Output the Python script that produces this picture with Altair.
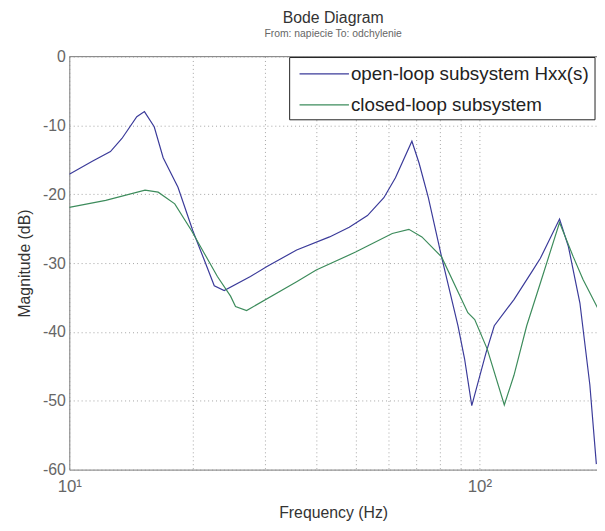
import altair as alt
import pandas as pd

# ---- data ----
open_freq = [10.0, 11.38, 12.60, 13.44, 14.61, 15.25, 16.11, 16.94, 18.41, 20.01, 21.35, 22.57, 23.86,
             27.65, 30.34, 35.84, 43.11, 48.15, 53.33, 58.48, 62.41, 68.45, 71.28, 75.07, 80.86,
             88.64, 92.0, 95.8, 103.8, 108.7, 121.4, 134.4, 140.8, 156.8, 164.8, 175.8, 185.9, 192.8]
open_db = [-17.1, -15.2, -13.8, -11.9, -8.75, -8.0, -10.2, -14.7, -19.0, -25.3, -29.6, -33.3, -34.0,
           -31.95, -30.5, -28.1, -26.2, -24.8, -23.1, -20.5, -17.6, -12.3, -15.5, -20.5, -29.1,
           -39.1, -43.9, -50.7, -43.0, -39.1, -35.3, -31.2, -29.3, -23.6, -27.6, -35.8, -47.7, -59.2]

closed_freq = [10.0, 12.27, 15.30, 16.47, 18.08, 19.82, 21.35, 22.97, 24.73, 25.43, 27.06, 35.84,
               40.0, 49.9, 61.3, 67.3, 72.4, 80.86, 93.7, 97.4, 104.5, 115.0, 121.4, 130.4, 140.8,
               156.8, 169.4, 178.9, 194.9]
closed_db = [-21.9, -20.9, -19.4, -19.7, -21.4, -25.2, -28.6, -31.95, -34.8, -36.3, -36.9, -32.7,
             -31.0, -28.4, -25.7, -25.1, -26.2, -29.1, -37.2, -38.2, -42.5, -50.6, -46.3, -39.1, -32.9,
             -24.1, -29.1, -32.4, -36.7]

series_names = ["open-loop subsystem Hxx(s)", "closed-loop subsystem"]
series_colors = ["#3b3b9a", "#3d8c5c"]

x_ticks = [10, 20, 30, 40, 50, 60, 70, 80, 90, 100]
y_ticks = [0, -10, -20, -30, -40, -50, -60]

W, H = 534, 418
FONT = "Liberation Sans"

df = pd.concat([
    pd.DataFrame({"f": open_freq, "db": open_db, "series": series_names[0], "order": range(len(open_freq))}),
    pd.DataFrame({"f": closed_freq, "db": closed_db, "series": series_names[1], "order": range(len(closed_freq))}),
])

xscale = alt.Scale(type="log", domain=[10, 193.5], nice=False, clamp=False)
yscale = alt.Scale(domain=[-60, 0], nice=False)

lines = alt.Chart(df).mark_line(strokeWidth=1.2, clip=True).encode(
    x=alt.X("f:Q", scale=xscale,
            axis=alt.Axis(values=x_ticks, title="Frequency (Hz)",
                          labelExpr="datum.value == 10 ? '10¹' : (datum.value == 100 ? '10²' : '')",
                          grid=True, gridDash=[1, 3], gridColor="#999", gridOpacity=0.9,
                          tickSize=0, labelPadding=9, labelFontSize=17, labelColor="#666",
                          labelFont=FONT, titleFont=FONT, titleFontSize=16, titleFontWeight="normal",
                          titleColor="#333", titlePadding=10, domainColor="#888", labelFlush=False)),
    y=alt.Y("db:Q", scale=yscale,
            axis=alt.Axis(values=y_ticks, title="Magnitude (dB)", grid=True, gridDash=[1, 3],
                          gridColor="#999", gridOpacity=0.9, tickSize=0, labelPadding=4,
                          labelExpr="datum.value == 0 ? '0' : '-' + abs(datum.value)",
                          labelFontSize=16, labelColor="#666", labelFont=FONT, titleFont=FONT,
                          titleFontSize=16, titleFontWeight="normal", titleColor="#333",
                          titlePadding=10, domainColor="#888", labelFlush=False)),
    color=alt.Color("series:N", scale=alt.Scale(domain=series_names, range=series_colors), legend=None),
    order="order:Q",
)

one = pd.DataFrame({"a": [0]})
top_border = alt.Chart(one).mark_rule(color="#888", strokeWidth=1).encode(
    x=alt.value(0), x2=alt.value(W), y=alt.value(0))

legend_box = alt.Chart(one).mark_rect(fill="white", stroke="#222", strokeWidth=1).encode(
    x=alt.value(223), x2=alt.value(532), y=alt.value(1), y2=alt.value(64))

leg_layers = [legend_box]
for i, (name, col) in enumerate(zip(series_names, series_colors)):
    yy = 17.5 + i * 31.5
    leg_layers.append(alt.Chart(one).mark_rule(color=col, strokeWidth=1.2).encode(
        x=alt.value(233), x2=alt.value(283), y=alt.value(yy)))
    leg_layers.append(alt.Chart(pd.DataFrame({"t": [name]})).mark_text(
        align="left", baseline="middle", fontSize=19, font=FONT, color="#222").encode(
        x=alt.value(285), y=alt.value(yy), text="t:N"))

chart = alt.layer(lines, top_border, *leg_layers).properties(
    width=W, height=H,
    title=alt.TitleParams("Bode Diagram", subtitle="From: napiecie  To: odchylenie",
                          font=FONT, fontSize=16, fontWeight="normal", color="#333",
                          subtitleFont=FONT, subtitleFontSize=10.5, subtitleColor="#666",
                          subtitlePadding=3, anchor="middle", offset=9),
    autosize=alt.AutoSizeParams(type="none"),
    padding={"left": 62, "top": 46, "right": 0, "bottom": 60},
).configure_view(stroke=None).configure(background="white")

chart.save("out.html", embed_options={"renderer": "svg", "actions": False})
